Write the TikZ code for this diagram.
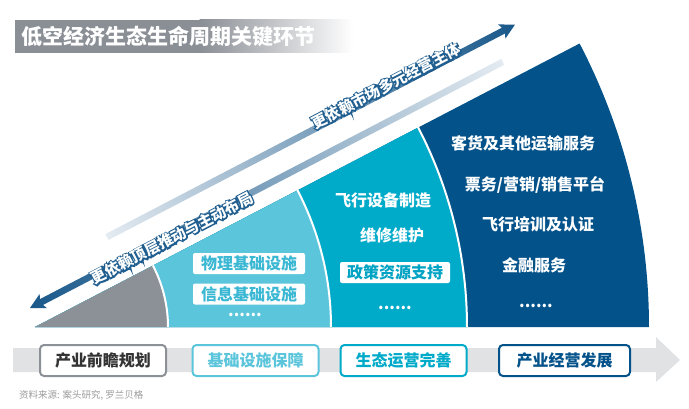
\documentclass[tikz,border=0pt]{standalone}
\usepackage{fontspec}
\setmainfont{Noto Sans CJK SC}
\definecolor{titlegray}{HTML}{8A8E95}
\definecolor{secgray}{HTML}{8C9097}
\definecolor{secltblue}{HTML}{5BC5DB}
\definecolor{secteal}{HTML}{00AAC9}
\definecolor{secdkblue}{HTML}{03528A}
\definecolor{arrdark}{HTML}{18588A}
\definecolor{arrmid}{HTML}{A9C1D3}
\definecolor{arrlight}{HTML}{E4EBF1}
\definecolor{bandgray}{HTML}{E1E2E4}
\definecolor{ltbluetext}{HTML}{3AB7D3}
\definecolor{tealtext}{HTML}{00A3C4}
\definecolor{srcgray}{HTML}{9A9A9A}
% white text with a dark blue rim, drawn by the pdf text render mode
\newcommand{\rimtext}[1]{\rlap{\special{pdf:literal direct 1 Tr 2.6 w 0.12 0.37 0.56 RG}#1\special{pdf:literal direct 0 Tr}}#1}

\begin{document}
\begin{tikzpicture}[x=1pt, y=1pt, every node/.style={font=\bfseries\fontsize{16}{18}\selectfont, inner sep=2pt},
  item/.style={text=white},
  tag/.style={fill=white, rounded corners=2pt, minimum width=112pt, minimum height=21pt, inner sep=0pt},
  slogan/.style={rotate=27.5, text=white, font=\bfseries\fontsize{15}{17}\selectfont},
  stage/.style={draw, line width=2pt, fill=white, rounded corners=4pt, minimum width=126pt, minimum height=31pt}]
\useasboundingbox (0,0) rectangle (689,408);

% title bar
\fill[titlegray] (15,355) rectangle (200,388);
\shade[left color=titlegray, right color=white] (199.5,355) rectangle (353,388);
\node[anchor=west, text=white, font=\bfseries\fontsize{21}{23}\selectfont] (title) at (19,371.5) {低空经济生态生命周期关键环节};

% sectors around the apex
\coordinate (o) at (35,81);
\fill[secdkblue] (o) -- ++(614,0) arc[start angle=0, end angle=27.5, radius=614] -- cycle;
\fill[secteal] (o) -- ++(432,0) arc[start angle=0, end angle=27.5, radius=432] -- cycle;
\fill[secltblue] (o) -- ++(296,0) arc[start angle=0, end angle=27.5, radius=296] -- cycle;
\fill[secgray] (o) -- ++(133,0) arc[start angle=0, end angle=27.5, radius=133] -- cycle;
\foreach \r in {133,296,432}
  \draw[white, line width=2pt] (o) ++(\r,0) arc[start angle=0, end angle=27.6, radius=\r];

% two slanted arrows
\begin{scope}[transform canvas={shift={(30,100)}, rotate=27.5}]
  \shade[left color=arrdark, middle color=arrmid, right color=arrlight]
    (0,0) -- (15,8) -- (13,3.3) -- (533,3.3) -- (533,-3.3) -- (13,-3.3) -- (15,-8) -- cycle;
\end{scope}
\begin{scope}[transform canvas={shift={(107,171)}, rotate=27.5}]
  \shade[left color=arrlight, middle color=arrmid, right color=arrdark]
    (0,-3.3) -- (447,-3.3) -- (445,-8) -- (460,0) -- (445,8) -- (447,3.3) -- (0,3.3) -- cycle;
\end{scope}
\node[slogan] (top-down) at (172,170) {\rimtext{更依赖顶层推动与主动布局}};
\node[slogan] (market) at (386,322) {\rimtext{更依赖市场多元经营主体}};

% light blue: infrastructure
\node[tag, text=ltbluetext] (phys) at (249,144.5) {物理基础设施};
\node[tag, text=ltbluetext] (info) at (249,114) {信息基础设施};
\node[item] (dots1) at (245,93) {......};

% teal: ecosystem
\node[item] (equip) at (383,208) {飞行设备制造};
\node[item] (mro) at (392,173) {维修维护};
\node[tag, minimum width=110pt, text=tealtext] (policy) at (395,135.5) {政策资源支持};
\node[item] (dots2) at (395,100) {......};

% dark blue: operation
\node[item] (cargo) at (523,265) {客货及其他运输服务};
\node[item] (ticket) at (535,223) {票务/营销/销售平台};
\node[item] (train) at (538,184) {飞行培训及认证};
\node[item] (fin) at (534,143) {金融服务};
\node[item] (dots3) at (536,102) {......};

% bottom band with stages
\fill[bandgray] (13,36) -- (656,36) -- (656,26) -- (680,48) -- (656,71) -- (656,60) -- (13,60) -- cycle;
\node[stage, draw=secgray, text=black!80] (plan) at (103,47.5) {产业前瞻规划};
\node[stage, draw=secltblue, text=secltblue] (infra) at (255.5,47.5) {基础设施保障};
\node[stage, draw=secteal, text=secteal] (eco) at (403.5,47.5) {生态运营完善};
\node[stage, draw=secdkblue, text=secdkblue, minimum width=131pt] (oper) at (564.5,47.5) {产业经营发展};

\node[anchor=west, font=\fontsize{9.5}{11}\selectfont, text=srcgray] (src) at (17,13) {资料来源: 案头研究, 罗兰贝格};
\end{tikzpicture}
\end{document}
